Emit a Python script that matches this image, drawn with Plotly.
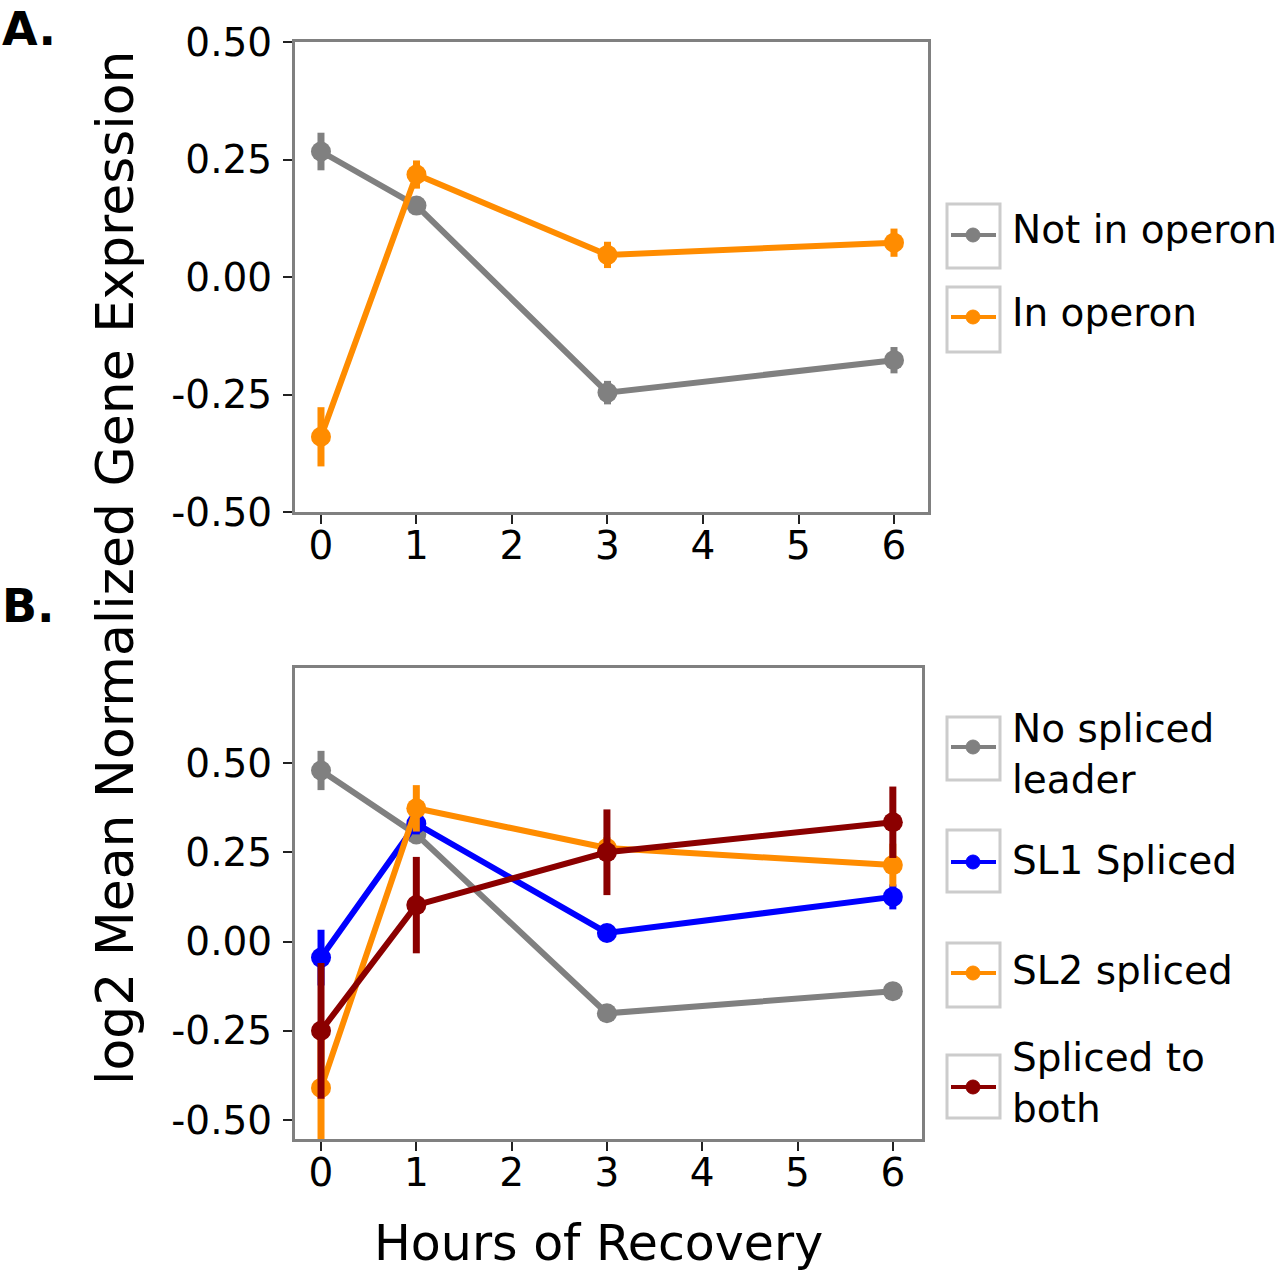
import plotly.graph_objects as go

W, H = 1280, 1274

# ---------------- data ----------------
hours = [0, 1, 3, 6]
x_ticks = [0, 1, 2, 3, 4, 5, 6]
y_ticks = [-0.5, -0.25, 0.0, 0.25, 0.5]
y_tick_text = ["-0.50", "-0.25", "0.00", "0.25", "0.50"]

# Panel A
a_names = ["Not in operon", "In operon"]
a_not_operon = [0.267, 0.152, -0.246, -0.177]
a_not_operon_err = [0.040, 0.015, 0.025, 0.028]
a_in_operon = [-0.340, 0.218, 0.047, 0.073]
a_in_operon_err = [0.063, 0.030, 0.028, 0.030]

# Panel B
b_names = ["No spliced<br>leader", "SL1 Spliced", "SL2 spliced", "Spliced to<br>both"]
b_no_sl = [0.479, 0.300, -0.201, -0.139]
b_no_sl_err = [0.055, 0.020, 0.020, 0.025]
b_sl1 = [-0.045, 0.330, 0.024, 0.125]
b_sl1_err = [0.078, 0.030, 0.025, 0.035]
b_sl2 = [-0.410, 0.373, 0.262, 0.214]
b_sl2_err = [0.160, 0.065, 0.030, 0.060]
b_both = [-0.250, 0.102, 0.250, 0.334]
b_both_err = [0.190, 0.135, 0.120, 0.100]

GRAY = "#808080"
ORANGE = "#FF8C00"
BLUE = "#0000FF"
DARKRED = "#8B0000"

FONT = "DejaVu Sans, sans-serif"
TICK_SIZE = 39

a_series = [(a_names[0], a_not_operon, a_not_operon_err, GRAY),
            (a_names[1], a_in_operon, a_in_operon_err, ORANGE)]
b_series = [(b_names[0], b_no_sl, b_no_sl_err, GRAY),
            (b_names[1], b_sl1, b_sl1_err, BLUE),
            (b_names[2], b_sl2, b_sl2_err, ORANGE),
            (b_names[3], b_both, b_both_err, DARKRED)]

fig = go.Figure()


def add_series(series, xa, ya):
    for name, vals, err, col in series:
        fig.add_trace(go.Scatter(
            x=hours, y=vals, name=name.replace("<br>", " "),
            mode="lines+markers",
            line=dict(color=col, width=6),
            marker=dict(color=col, size=20),
            error_y=dict(type="data", array=err, visible=True,
                         color=col, thickness=7, width=0),
            xaxis=xa, yaxis=ya, showlegend=False,
        ))


add_series(a_series, "x", "y")
add_series(b_series, "x2", "y2")


def px(x):
    return x / W


def py(y):
    return 1 - y / H


axis_common = dict(
    showline=True, mirror=True, linecolor=GRAY, linewidth=3,
    ticks="outside", ticklen=9, tickwidth=2, tickcolor="#222222",
    showgrid=False, zeroline=False, automargin=False,
    tickfont=dict(family=FONT, size=TICK_SIZE, color="black"),
)

fig.update_layout(
    width=W, height=H,
    margin=dict(l=0, r=0, t=0, b=0),
    paper_bgcolor="white", plot_bgcolor="white",
    xaxis=dict(domain=[px(295), px(928)], range=[-0.272, 6.356],
               tickvals=x_ticks, anchor="y", ticklabelstandoff=-12, **axis_common),
    yaxis=dict(domain=[py(512), py(42)], range=[-0.5, 0.5],
               tickvals=y_ticks, ticktext=y_tick_text, anchor="x",
               ticklabelstandoff=3, **axis_common),
    xaxis2=dict(domain=[px(295), px(922)], range=[-0.273, 6.306],
                tickvals=x_ticks, anchor="y2", ticklabelstandoff=-12, **axis_common),
    yaxis2=dict(domain=[py(1139), py(668)], range=[-0.553, 0.766],
                tickvals=y_ticks, ticktext=y_tick_text, anchor="x2",
                ticklabelstandoff=3, **axis_common),
    showlegend=False,
)

annotations = []
shapes = []

# axis titles
annotations.append(dict(text="log2 Mean Normalized Gene Expression", x=px(115), y=py(568),
                        xref="paper", yref="paper", showarrow=False, textangle=-90,
                        xanchor="center", yanchor="middle",
                        font=dict(family=FONT, size=52, color="black")))
annotations.append(dict(text="Hours of Recovery", x=px(598), y=py(1243),
                        xref="paper", yref="paper", showarrow=False,
                        xanchor="center", yanchor="middle",
                        font=dict(family=FONT, size=49, color="black")))
# panel letters
annotations.append(dict(text="<b>A.</b>", x=0, y=1, xref="paper", yref="paper",
                        showarrow=False, xanchor="left", yanchor="top",
                        font=dict(family="DejaVu Sans", size=46, color="black")))
annotations.append(dict(text="<b>B.</b>", x=0, y=py(606), xref="paper", yref="paper",
                        showarrow=False, xanchor="left", yanchor="middle",
                        font=dict(family="DejaVu Sans", size=46, color="black")))


# manual legends
def legend_entry(label, color, box_top, box_bot, sym_y, text_y):
    shapes.append(dict(type="rect", xref="paper", yref="paper",
                       x0=px(947), x1=px(1000), y0=py(box_bot), y1=py(box_top),
                       line=dict(color="#CCCCCC", width=3), fillcolor="rgba(0,0,0,0)"))
    shapes.append(dict(type="line", xref="paper", yref="paper",
                       x0=px(951), x1=px(996), y0=py(sym_y), y1=py(sym_y),
                       line=dict(color=color, width=4)))
    shapes.append(dict(type="circle", xref="paper", yref="paper",
                       x0=px(966), x1=px(980), y0=py(sym_y + 7), y1=py(sym_y - 7),
                       line=dict(color=color, width=1), fillcolor=color))
    annotations.append(dict(text=label, x=px(1010), y=py(text_y), xref="paper", yref="paper",
                            showarrow=False, xanchor="left", yanchor="middle", align="left",
                            font=dict(family=FONT, size=TICK_SIZE, color="black")))


legend_entry(a_names[0], GRAY, 204, 268, 235, 230)
legend_entry(a_names[1], ORANGE, 287, 352, 317, 312)
legend_entry(b_names[0], GRAY, 717, 780, 747, 754)
legend_entry(b_names[1], BLUE, 830, 892, 862, 860)
legend_entry(b_names[2], ORANGE, 943, 1007, 973, 970)
legend_entry(b_names[3], DARKRED, 1055, 1118, 1087, 1083)

fig.update_layout(annotations=annotations, shapes=shapes)

fig.write_html("out.html")
